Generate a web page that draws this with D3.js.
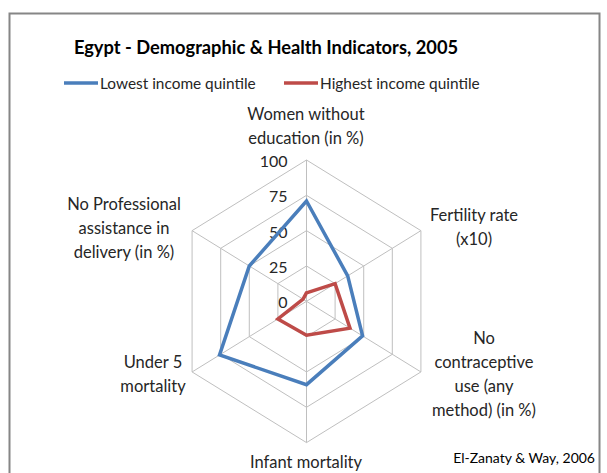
<!DOCTYPE html>
<html>
<head>
<meta charset="utf-8">
<script src="https://cdn.jsdelivr.net/npm/d3@7"></script>
<style>
  body { margin: 0; background: #fff; }
  text { font-family: Lato, "Open Sans", sans-serif; }
</style>
</head>
<body>
<div id="chart"></div>
<script>
// Data
let axes = [
  ["Women without", "education (in %)"],
  ["Fertility rate", "(x10)"],
  ["No", "contraceptive", "use (any", "method) (in %)"],
  ["Infant mortality"],
  ["Under 5", "mortality"],
  ["No Professional", "assistance in", "delivery (in %)"]
];
let lowest = [71, 36, 49, 59, 76, 50];
let highest = [6, 25, 38, 24, 25, 3];
let ticks = [0, 25, 50, 75, 100];

let svgWidth = 607;
let svgHeight = 473;

let svg = d3.select("#chart")
  .append("svg")
  .attr("width", svgWidth)
  .attr("height", svgHeight);

// Outer frame
svg.append("rect")
  .attr("x", 9.5)
  .attr("y", 13.5)
  .attr("width", 590)
  .attr("height", 480)
  .attr("fill", "none")
  .attr("stroke", "#868686")
  .attr("stroke-width", 2);

// Title
svg.append("text")
  .attr("x", 266)
  .attr("y", 54)
  .attr("text-anchor", "middle")
  .style("font-size", "18.3px")
  .style("font-weight", "bold")
  .style("fill", "#000")
  .text("Egypt - Demographic & Health Indicators, 2005");

// Legend
let legend = [
  { name: "Lowest income quintile", color: "#4a7ebb", x: 64 },
  { name: "Highest income quintile", color: "#be4b48", x: 284 }
];
legend.forEach(l => {
  svg.append("line")
    .attr("x1", l.x).attr("x2", l.x + 34)
    .attr("y1", 83).attr("y2", 83)
    .attr("stroke", l.color)
    .attr("stroke-width", 3.5);
  svg.append("text")
    .attr("x", l.x + 36)
    .attr("y", 89)
    .style("font-size", "15.4px")
    .style("fill", "#262626")
    .text(l.name);
});

// Radar geometry
let cx = 306.5, cy = 301.3;
let R = 141.3;
let kx = 0.935; // picture is a bit narrower than tall
let r = d3.scaleLinear().domain([0, 100]).range([0, R]);
let angle = d3.scaleLinear().domain([0, axes.length]).range([0, 2 * Math.PI]);

function pt(i, v) {
  let a = angle(i);
  return [cx + r(v) * Math.sin(a) * kx, cy - r(v) * Math.cos(a)];
}

let chartGroup = svg.append("g");

// Grid rings
ticks.filter(t => t > 0).forEach(t => {
  chartGroup.append("path")
    .attr("d", d3.line()(axes.map((d, i) => pt(i, t))) + "Z")
    .attr("fill", "none")
    .attr("stroke", "#bfbfbf")
    .attr("stroke-width", 1);
});

// Spokes
axes.forEach((d, i) => {
  let p = pt(i, 100);
  chartGroup.append("line")
    .attr("x1", cx).attr("y1", cy)
    .attr("x2", p[0]).attr("y2", p[1])
    .attr("stroke", "#bfbfbf")
    .attr("stroke-width", 1);
});

// Tick labels
ticks.forEach(t => {
  chartGroup.append("text")
    .attr("x", cx - 19)
    .attr("y", cy - r(t) + 7)
    .attr("text-anchor", "end")
    .style("font-size", "16px")
    .style("fill", "#262626")
    .text(t);
});

// Series
let series = [
  { values: lowest, color: "#4a7ebb" },
  { values: highest, color: "#be4b48" }
];
series.forEach(s => {
  chartGroup.append("path")
    .attr("d", d3.line()(s.values.map((v, i) => pt(i, v))) + "Z")
    .attr("fill", "none")
    .attr("stroke", s.color)
    .attr("stroke-width", 3.5)
    .attr("stroke-linejoin", "miter");
});

// Axis labels
let labelPos = [
  { x: 306, y: 120 },
  { x: 474, y: 221 },
  { x: 484, y: 344 },
  { x: 306, y: 468 },
  { x: 153, y: 368 },
  { x: 124, y: 210 }
];
axes.forEach((lines, i) => {
  let t = chartGroup.append("text")
    .attr("text-anchor", "middle")
    .style("font-size", "16.5px")
    .style("fill", "#262626");
  lines.forEach((ln, j) => {
    t.append("tspan")
      .attr("x", labelPos[i].x)
      .attr("y", labelPos[i].y + j * 24)
      .text(ln);
  });
});

// Source note
svg.append("text")
  .attr("x", 595)
  .attr("y", 463)
  .attr("text-anchor", "end")
  .style("font-size", "14px")
  .style("fill", "#000")
  .text("El-Zanaty & Way, 2006");
</script>
</body>
</html>
